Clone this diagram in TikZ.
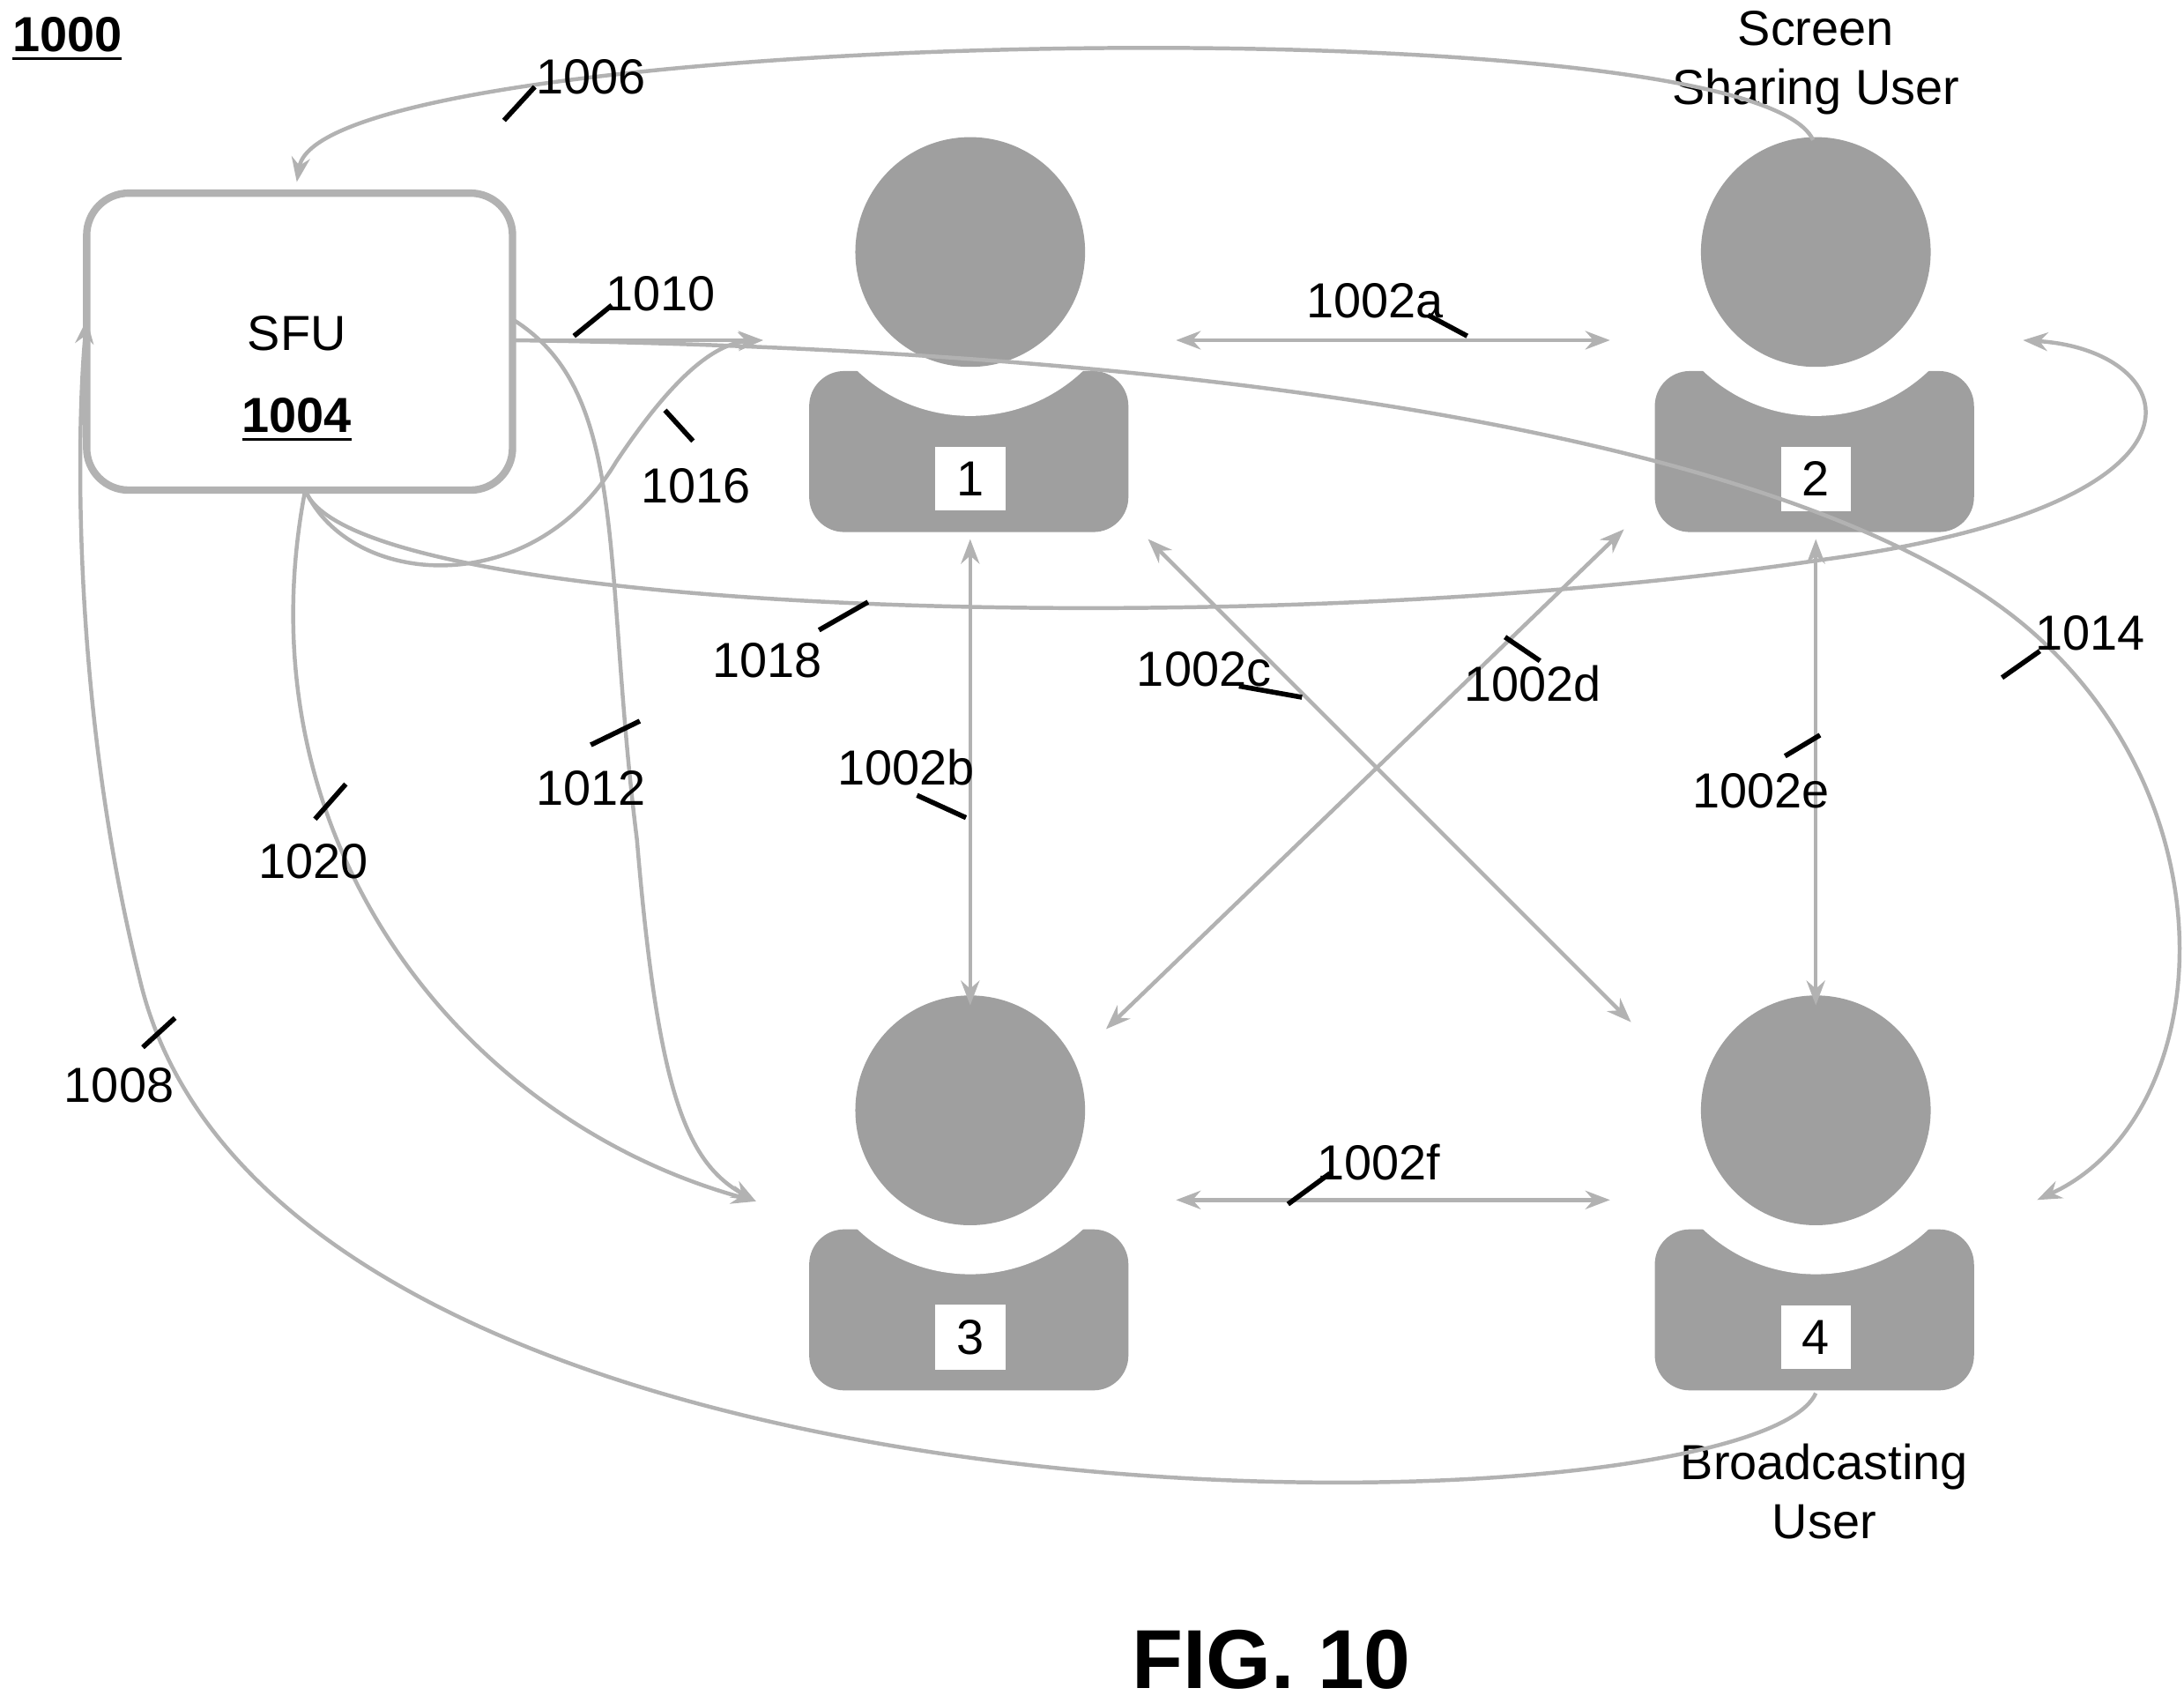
\documentclass[tikz,border=0pt]{standalone}
\usepackage{fontspec}
\setmainfont{Liberation Sans}
\usetikzlibrary{arrows.meta,positioning}
\tikzset{
	link/.style={draw=gray!60, line width=0.8pt},
	tick/.style={draw=black, line width=1pt},
	lbl/.style={font=\fontsize{10}{12}\selectfont},
	num/.style={fill=white, inner sep=3pt, minimum width=0.5cm, font=\fontsize{10}{12}\selectfont}
	}
\newcommand{\personfig}[4]{%
	\fill[gray!75, rounded corners=0.25cm] (#2-115,#3+200) -- (#2-115,#3+85) -- (#2+113,#3+85) -- (#2+113,#3+200) -- cycle;
	\fill[white] (#2,#3) circle (1.17cm);
	\fill[gray!75] (#2,#3) circle (0.82cm);
	\coordinate (#1) at (#2,#3);
	\node[num] (#1n) at (#2,#3+162) {#4};
}

\begin{document}
\begin{tikzpicture}[x=0.01cm, y=-0.01cm, >={Stealth[length=5pt]}]
	\useasboundingbox (0,0) rectangle (1560,1216);

	% title
	\node[lbl, font=\fontsize{10}{12}\selectfont\bfseries] (fig) at (48,28) {\underline{1000}};
	\node[font=\fontsize{17}{20}\selectfont\bfseries] (figno) at (908,1185) {FIG. 10};

	% users
	\personfig{u1}{693}{180}{1}
	\personfig{u2}{1297}{180}{2}
	\personfig{u3}{693}{793}{3}
	\personfig{u4}{1297}{793}{4}
	\node[lbl, align=center] (ssu) at (1297,45) {Screen\\Sharing User};
	\node[lbl, align=center] (bcu) at (1303,1065) {Broadcasting\\User};

	% SFU
	\node[draw=gray!60, line width=1.5pt, rounded corners=0.3cm, minimum width=3.04cm, minimum height=2.12cm] (sfu) at (214,244) {};
	\node[lbl] (sfut) at (212,238) {SFU};
	\node[lbl, font=\fontsize{10}{12}\selectfont\bfseries] (sfun) at (212,300) {\underline{1004}};

	% peer links
	\coordinate (a1) at (840,243); \coordinate (a2) at (1150,243);
	\coordinate (b1) at (693,385); \coordinate (b2) at (693,718);
	\coordinate (c1) at (820,385); \coordinate (c2) at (1165,730);
	\coordinate (d1) at (1160,378); \coordinate (d2) at (790,735);
	\coordinate (e1) at (1297,385); \coordinate (e2) at (1297,718);
	\coordinate (f1) at (840,857); \coordinate (f2) at (1150,857);
	\draw[link, <->] (a1) -- (a2);
	\draw[link, <->] (b1) -- (b2);
	\draw[link, <->] (c1) -- (c2);
	\draw[link, <->] (d1) -- (d2);
	\draw[link, <->] (e1) -- (e2);
	\draw[link, <->] (f1) -- (f2);

	% SFU links
	\coordinate (in1) at (545,243);
	\coordinate (in3) at (540,858);
	\coordinate (in2) at (1445,243);
	\coordinate (in4) at (1455,857);
	\coordinate (sfuin) at (62,228);
	\draw[link, ->] (1295,100) .. controls (1250,0) and (230,20) .. (212,130);
	\draw[link, ->] (1297,995) .. controls (1250,1100) and (200,1120) .. (100,700) .. controls (50,500) and (55,300) .. (sfuin);
	\draw[link, ->] (366,243) -- (in1);
	\draw[link, ->] (366,228) .. controls (450,280) and (430,400) .. (455,600) .. controls (470,780) and (490,830) .. (in3);
	\draw[link, ->] (366,243) .. controls (900,250) and (1300,320) .. (1450,450) .. controls (1600,580) and (1580,800) .. (in4);
	\draw[link, ->] (218,350) .. controls (250,420) and (380,430) .. (440,330) .. controls (480,270) and (510,245) .. (in1);
	\draw[link, ->] (218,350) .. controls (250,440) and (900,460) .. (1300,400) .. controls (1600,360) and (1560,250) .. (in2);
	\draw[link, ->] (218,350) .. controls (170,600) and (330,800) .. (in3);

	% reference numerals
	\node[lbl] (l1006) at (422,55) {1006};  \draw[tick] (360,86) -- (382,62);
	\node[lbl] (l1008) at (85,775) {1008};  \draw[tick] (102,748) -- (125,727);
	\node[lbl] (l1010) at (472,210) {1010}; \draw[tick] (410,240) -- (437,218);
	\node[lbl] (l1012) at (422,563) {1012}; \draw[tick] (422,532) -- (457,515);
	\node[lbl] (l1014) at (1493,452) {1014}; \draw[tick] (1430,484) -- (1457,465);
	\node[lbl] (l1016) at (497,347) {1016}; \draw[tick] (475,293) -- (495,315);
	\node[lbl] (l1018) at (548,472) {1018}; \draw[tick] (585,450) -- (620,430);
	\node[lbl] (l1020) at (224,615) {1020}; \draw[tick] (225,585) -- (247,560);
	\node[lbl] (l2a) at (982,215) {1002a}; \draw[tick] (1020,225) -- (1048,240);
	\node[lbl] (l2b) at (647,548) {1002b}; \draw[tick] (655,568) -- (690,584);
	\node[lbl] (l2c) at (860,478) {1002c}; \draw[tick] (885,490) -- (930,498);
	\node[lbl] (l2d) at (1095,488) {1002d}; \draw[tick] (1075,455) -- (1100,472);
	\node[lbl] (l2e) at (1258,565) {1002e}; \draw[tick] (1275,540) -- (1300,525);
	\node[lbl] (l2f) at (985,830) {1002f}; \draw[tick] (920,860) -- (950,838);
\end{tikzpicture}
\end{document}
